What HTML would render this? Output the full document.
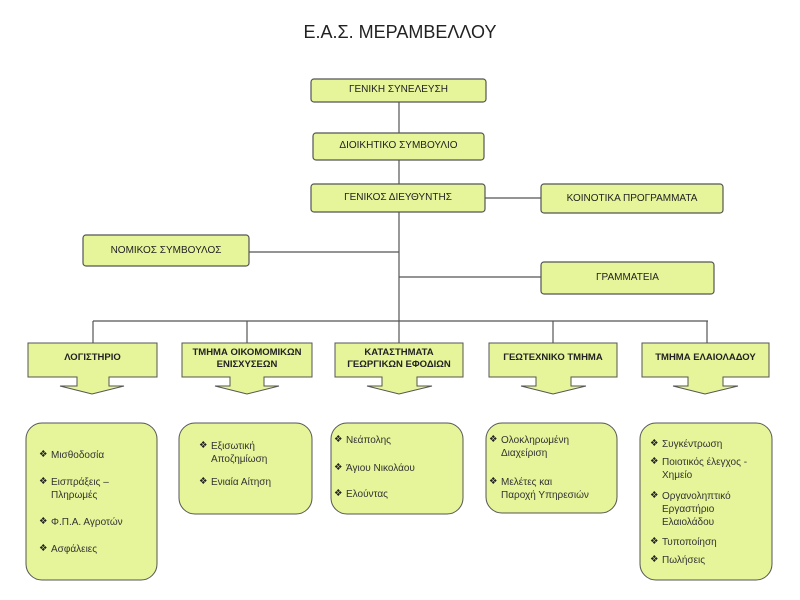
<!DOCTYPE html>
<html><head><meta charset="utf-8"><style>
body{margin:0;background:#fff;width:800px;height:600px;position:relative;overflow:hidden;font-family:"Liberation Sans",Arial,sans-serif;}
.t{position:absolute;font-size:10px;color:#222;white-space:nowrap;}
.c{text-align:center;}
.b{font-weight:bold;font-size:9.5px;line-height:12px;}
.i{position:absolute;font-size:10px;color:#333;line-height:13px;white-space:nowrap;}
.i:before{content:"❖";position:absolute;left:-12px;top:-1px;font-size:9.5px;color:#222;}
</style></head><body>
<svg width="800" height="600" style="position:absolute;left:0;top:0">
<g stroke="#555" stroke-width="1.2" fill="none">
<line x1="399" y1="101" x2="399" y2="321"/>
<line x1="485" y1="198" x2="541" y2="198"/>
<line x1="249" y1="252" x2="399" y2="252"/>
<line x1="399" y1="277" x2="541" y2="277"/>
<line x1="93" y1="321" x2="708" y2="321"/>
<line x1="93" y1="321" x2="93" y2="343"/>
<line x1="247" y1="321" x2="247" y2="343"/>
<line x1="399" y1="321" x2="399" y2="343"/>
<line x1="553" y1="321" x2="553" y2="343"/>
<line x1="707" y1="321" x2="707" y2="343"/>
</g>
<g fill="#e6f49a" stroke="#555" stroke-width="1.2">
<rect x="311" y="79" width="175" height="23" rx="3"/>
<rect x="313" y="133" width="171" height="27" rx="3"/>
<rect x="311" y="184" width="174" height="28" rx="3"/>
<rect x="541" y="184" width="182" height="29" rx="3"/>
<rect x="83" y="235" width="166" height="31" rx="3"/>
<rect x="541" y="262" width="173" height="32" rx="3"/>
</g>
<g fill="#e6f49a" stroke="#555" stroke-width="1">
<path d="M28,343 H157 V377 H109 V386 H124 L92,394 L60,386 H77 V377 H28 Z"/>
<path d="M182,343 H312 V377 H264 V386 H279 L247,394 L215,386 H230 V377 H182 Z"/>
<path d="M335,343 H463 V377 H417 V386 H432 L399,394 L367,386 H382 V377 H335 Z"/>
<path d="M489,343 H617 V377 H571 V386 H586 L553,394 L521,386 H536 V377 H489 Z"/>
<path d="M642,343 H769 V377 H723 V386 H738 L705,394 L673,386 H688 V377 H642 Z"/>
<rect x="26" y="423" width="131" height="157" rx="16"/>
<rect x="179" y="423" width="133" height="91" rx="16"/>
<rect x="331" y="423" width="132" height="91" rx="16"/>
<rect x="486" y="423" width="131" height="90" rx="16"/>
<rect x="640" y="423" width="132" height="157" rx="16"/>
</g>
</svg>
<div class="t c" style="left:200px;top:22px;width:400px;font-size:18px;color:#222">Ε.Α.Σ. ΜΕΡΑΜΒΕΛΛΟΥ</div>
<div class="t c" style="left:311px;top:84px;width:175px">ΓΕΝΙΚΗ ΣΥΝΕΛΕΥΣΗ</div>
<div class="t c" style="left:313px;top:140px;width:171px">ΔΙΟΙΚΗΤΙΚΟ ΣΥΜΒΟΥΛΙΟ</div>
<div class="t c" style="left:311px;top:192px;width:174px">ΓΕΝΙΚΟΣ ΔΙΕΥΘΥΝΤΗΣ</div>
<div class="t c" style="left:541px;top:193px;width:182px">ΚΟΙΝΟΤΙΚΑ ΠΡΟΓΡΑΜΜΑΤΑ</div>
<div class="t c" style="left:83px;top:245px;width:166px">ΝΟΜΙΚΟΣ ΣΥΜΒΟΥΛΟΣ</div>
<div class="t c" style="left:541px;top:272px;width:173px">ΓΡΑΜΜΑΤΕΙΑ</div>
<div class="t c b" style="left:28px;top:352px;width:129px">ΛΟΓΙΣΤΗΡΙΟ</div>
<div class="t c b" style="left:182px;top:347px;width:130px">ΤΜΗΜΑ ΟΙΚΟΜΟΜΙΚΩΝ<br>ΕΝΙΣΧΥΣΕΩΝ</div>
<div class="t c b" style="left:335px;top:347px;width:128px">ΚΑΤΑΣΤΗΜΑΤΑ<br>ΓΕΩΡΓΙΚΩΝ ΕΦΟΔΙΩΝ</div>
<div class="t c b" style="left:489px;top:352px;width:128px">ΓΕΩΤΕΧΝΙΚΟ ΤΜΗΜΑ</div>
<div class="t c b" style="left:642px;top:352px;width:127px">ΤΜΗΜΑ ΕΛΑΙΟΛΑΔΟΥ</div>
<div class="i" style="left:51px;top:449px">Μισθοδοσία</div>
<div class="i" style="left:51px;top:476px">Εισπράξεις –<br>Πληρωμές</div>
<div class="i" style="left:51px;top:516px">Φ.Π.Α. Αγροτών</div>
<div class="i" style="left:51px;top:543px">Ασφάλειες</div>
<div class="i" style="left:211px;top:440px">Εξισωτική<br>Αποζημίωση</div>
<div class="i" style="left:211px;top:476px">Ενιαία Αίτηση</div>
<div class="i" style="left:346px;top:434px">Νεάπολης</div>
<div class="i" style="left:346px;top:462px">Άγιου Νικολάου</div>
<div class="i" style="left:346px;top:488px">Ελούντας</div>
<div class="i" style="left:501px;top:434px">Ολοκληρωμένη<br>Διαχείριση</div>
<div class="i" style="left:501px;top:476px">Μελέτες και<br>Παροχή Υπηρεσιών</div>
<div class="i" style="left:662px;top:438px">Συγκέντρωση</div>
<div class="i" style="left:662px;top:456px">Ποιοτικός έλεγχος -<br>Χημείο</div>
<div class="i" style="left:662px;top:490px">Οργανοληπτικό<br>Εργαστήριο<br>Ελαιολάδου</div>
<div class="i" style="left:662px;top:536px">Τυποποίηση</div>
<div class="i" style="left:662px;top:554px">Πωλήσεις</div>
</body></html>
